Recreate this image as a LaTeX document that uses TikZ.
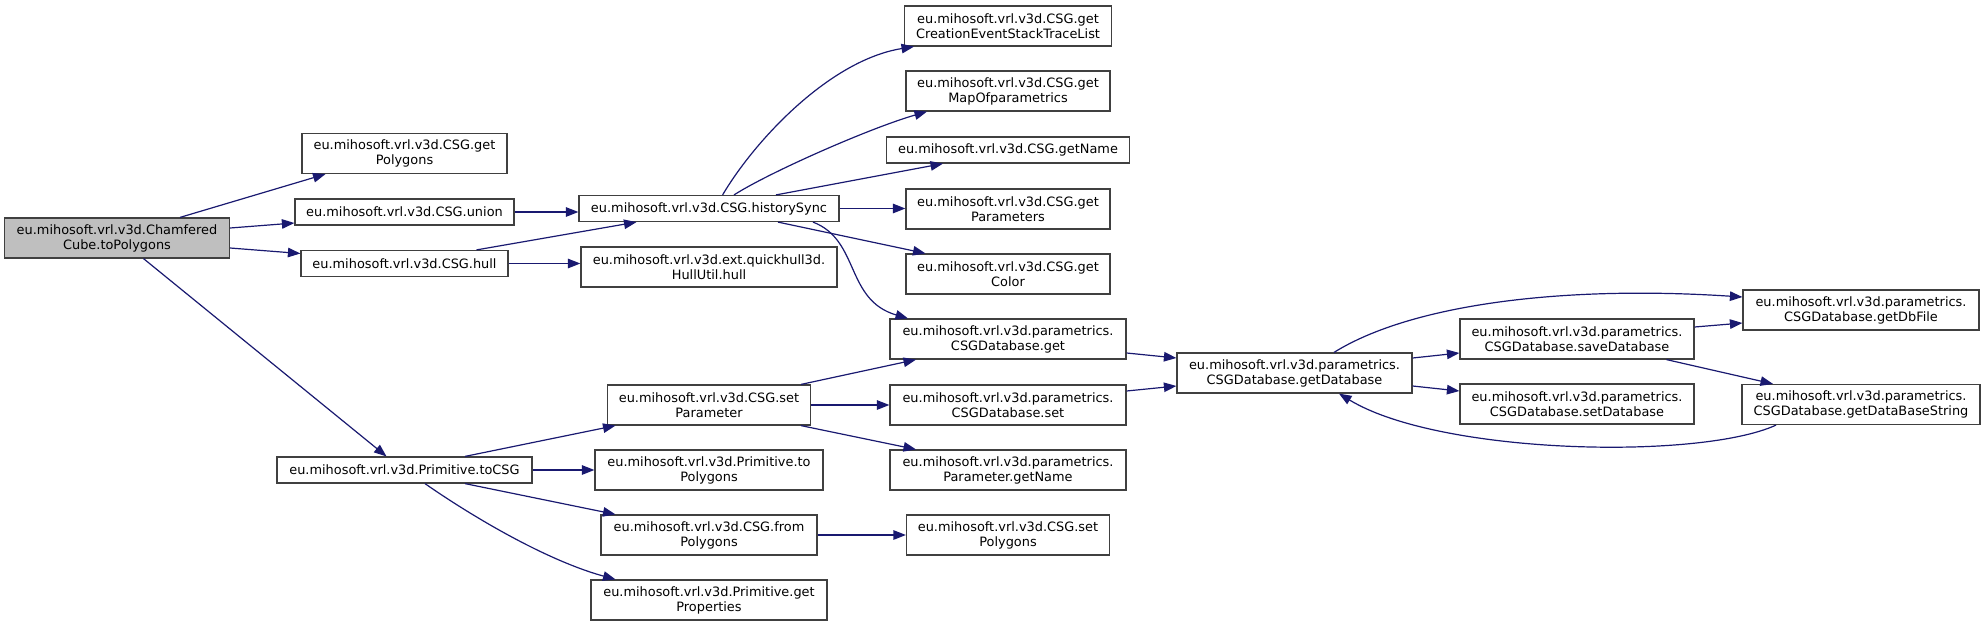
\documentclass[tikz,border=0pt]{standalone}
\usepackage{fontspec}
\setmainfont{DejaVu Sans}
\usepackage{xcolor}
\definecolor{edgeblue}{RGB}{25,25,112}
\definecolor{boxline}{RGB}{64,64,64}
\definecolor{rootgray}{RGB}{191,191,191}
\usetikzlibrary{arrows.meta,calc}

\tikzset{
  fn/.style={draw=boxline, fill=white, line width=1.2pt, inner sep=0pt, align=center,
    minimum height=40pt, font=\fontsize{12.9}{15}\selectfont},
  fnone/.style={fn, minimum height=26pt},
  root/.style={fn, fill=rootgray},
  call/.style={draw=edgeblue, line width=1.2pt, -{Triangle[length=12.5pt,width=9.5pt]}}
}

\begin{document}
\begin{tikzpicture}[x=1pt,y=-1pt]
  \useasboundingbox (0,0) rectangle (1985,627);

  %% column 1: caller
  \node[root, minimum width=225pt] (cube) at (117,238) {eu.mihosoft.vrl.v3d.Chamfered\\Cube.toPolygons};

  %% column 2
  \node[fn, minimum width=205pt]    (getpoly) at (404.5,153.5) {eu.mihosoft.vrl.v3d.CSG.get\\Polygons};
  \node[fnone, minimum width=219pt] (union)   at (404.5,212) {eu.mihosoft.vrl.v3d.CSG.union};
  \node[fnone, minimum width=207pt] (hull)    at (404.5,263.5) {eu.mihosoft.vrl.v3d.CSG.hull};
  \node[fnone, minimum width=255pt] (tocsg)   at (404.5,470) {eu.mihosoft.vrl.v3d.Primitive.toCSG};

  %% column 3
  \node[fnone, minimum width=260pt] (hsync)    at (709,208.5) {eu.mihosoft.vrl.v3d.CSG.historySync};
  \node[fn, minimum width=256pt]    (qhull)    at (709,267) {eu.mihosoft.vrl.v3d.ext.quickhull3d.\\HullUtil.hull};
  \node[fn, minimum width=203pt]    (setparam) at (709,405) {eu.mihosoft.vrl.v3d.CSG.set\\Parameter};
  \node[fn, minimum width=228pt]    (primpoly) at (709,470) {eu.mihosoft.vrl.v3d.Primitive.to\\Polygons};
  \node[fn, minimum width=216pt]    (frompoly) at (709,535) {eu.mihosoft.vrl.v3d.CSG.from\\Polygons};
  \node[fn, minimum width=236pt]    (props)    at (709,600) {eu.mihosoft.vrl.v3d.Primitive.get\\Properties};

  %% column 4
  \node[fn, minimum width=207pt]    (trace)   at (1008,26) {eu.mihosoft.vrl.v3d.CSG.get\\CreationEventStackTraceList};
  \node[fn, minimum width=204pt]    (map)     at (1008,91) {eu.mihosoft.vrl.v3d.CSG.get\\MapOfparametrics};
  \node[fnone, minimum width=243pt] (getname) at (1008,150) {eu.mihosoft.vrl.v3d.CSG.getName};
  \node[fn, minimum width=204pt]    (params)  at (1008,209) {eu.mihosoft.vrl.v3d.CSG.get\\Parameters};
  \node[fn, minimum width=204pt]    (color)   at (1008,274) {eu.mihosoft.vrl.v3d.CSG.get\\Color};
  \node[fn, minimum width=236pt]    (dbget)   at (1008,339) {eu.mihosoft.vrl.v3d.parametrics.\\CSGDatabase.get};
  \node[fn, minimum width=236pt]    (dbset)   at (1008,405) {eu.mihosoft.vrl.v3d.parametrics.\\CSGDatabase.set};
  \node[fn, minimum width=236pt]    (pname)   at (1008,470) {eu.mihosoft.vrl.v3d.parametrics.\\Parameter.getName};
  \node[fn, minimum width=203pt]    (setpoly) at (1008,535) {eu.mihosoft.vrl.v3d.CSG.set\\Polygons};

  %% columns 5-7: database
  \node[fn, minimum width=235pt] (getdb)    at (1294.5,373) {eu.mihosoft.vrl.v3d.parametrics.\\CSGDatabase.getDatabase};
  \node[fn, minimum width=234pt] (savedb)   at (1577,339) {eu.mihosoft.vrl.v3d.parametrics.\\CSGDatabase.saveDatabase};
  \node[fn, minimum width=234pt] (setdb)    at (1577,404) {eu.mihosoft.vrl.v3d.parametrics.\\CSGDatabase.setDatabase};
  \node[fn, minimum width=236pt] (dbfile)   at (1861,310) {eu.mihosoft.vrl.v3d.parametrics.\\CSGDatabase.getDbFile};
  \node[fn, minimum width=238pt] (dbstring) at (1861,404.5) {eu.mihosoft.vrl.v3d.parametrics.\\CSGDatabase.getDataBaseString};

  %% calls from the root
  \draw[call] ($(cube.north)+(63,0)$) -- ($(getpoly.south)+(-79,0)$);
  \draw[call] ($(cube.east)+(0,-10)$) -- ($(union.west)+(0,11)$);
  \draw[call] ($(cube.east)+(0,10)$)  -- ($(hull.west)+(0,-10)$);
  \draw[call] ($(cube.south)+(26.5,0)$) -- ($(tocsg.north)+(-18,0)$);

  %% union / hull
  \draw[call] (union.east) -- (union.east -| hsync.west);
  \draw[call] ($(hull.north)+(72,0)$) -- ($(hsync.south)+(-72.5,0)$);
  \draw[call] (hull.east) -- (hull.east -| qhull.west);

  %% historySync
  \draw[call] ($(hsync.north)+(13.6,0)$) .. controls (755,140) and (830,60) .. ($(trace.south)+(-94,0)$);
  \draw[call] ($(hsync.north)+(25,0)$) .. controls (770,172) and (870,128) .. ($(map.south)+(-81,0)$);
  \draw[call] ($(hsync.north)+(67,0)$) -- ($(getname.south)+(-65,0)$);
  \draw[call] (hsync.east) -- (hsync.east -| params.west);
  \draw[call] ($(hsync.south)+(69,0)$) -- ($(color.north)+(-82.5,0)$);
  \draw[call] ($(hsync.south)+(104,0)$) .. controls (860,240) and (845,300) .. ($(dbget.north)+(-100,0)$);

  %% toCSG
  \draw[call] ($(tocsg.north)+(60.5,0)$) -- ($(setparam.south)+(-93.5,0)$);
  \draw[call] (tocsg.east) -- (tocsg.east -| primpoly.west);
  \draw[call] ($(tocsg.south)+(60.5,0)$) -- ($(frompoly.north)+(-93.5,0)$);
  \draw[call] ($(tocsg.south)+(20.5,0)$) .. controls (470,515) and (545,560) .. ($(props.north)+(-93.5,0)$);

  %% setParameter / fromPolygons
  \draw[call] ($(setparam.north)+(92,0)$) -- ($(dbget.south)+(-92,0)$);
  \draw[call] (setparam.east) -- (setparam.east -| dbset.west);
  \draw[call] ($(setparam.south)+(92,0)$) -- ($(pname.north)+(-92,0)$);
  \draw[call] (frompoly.east) -- (frompoly.east -| setpoly.west);

  %% database
  \draw[call] ($(dbget.east)+(0,14)$) -- ($(getdb.west)+(0,-15)$);
  \draw[call] ($(dbset.east)+(0,-14)$) -- ($(getdb.west)+(0,13)$);
  \draw[call] ($(getdb.east)+(0,-15)$) -- ($(savedb.west)+(0,14)$);
  \draw[call] ($(getdb.east)+(0,13)$) -- ($(setdb.west)+(0,-13)$);
  \draw[call] ($(getdb.north)+(39.5,0)$) .. controls (1410,305) and (1560,285) .. ($(dbfile.west)+(0,-13)$);
  \draw[call] ($(savedb.east)+(0,-12)$) -- ($(dbfile.west)+(0,13)$);
  \draw[call] ($(savedb.south)+(89.5,0)$) -- ($(dbstring.north)+(-88,0)$);
  \draw[call] ($(dbstring.south)+(-85,0)$) .. controls (1700,460) and (1440,455) .. ($(getdb.south)+(44.5,0)$);
\end{tikzpicture}
\end{document}
